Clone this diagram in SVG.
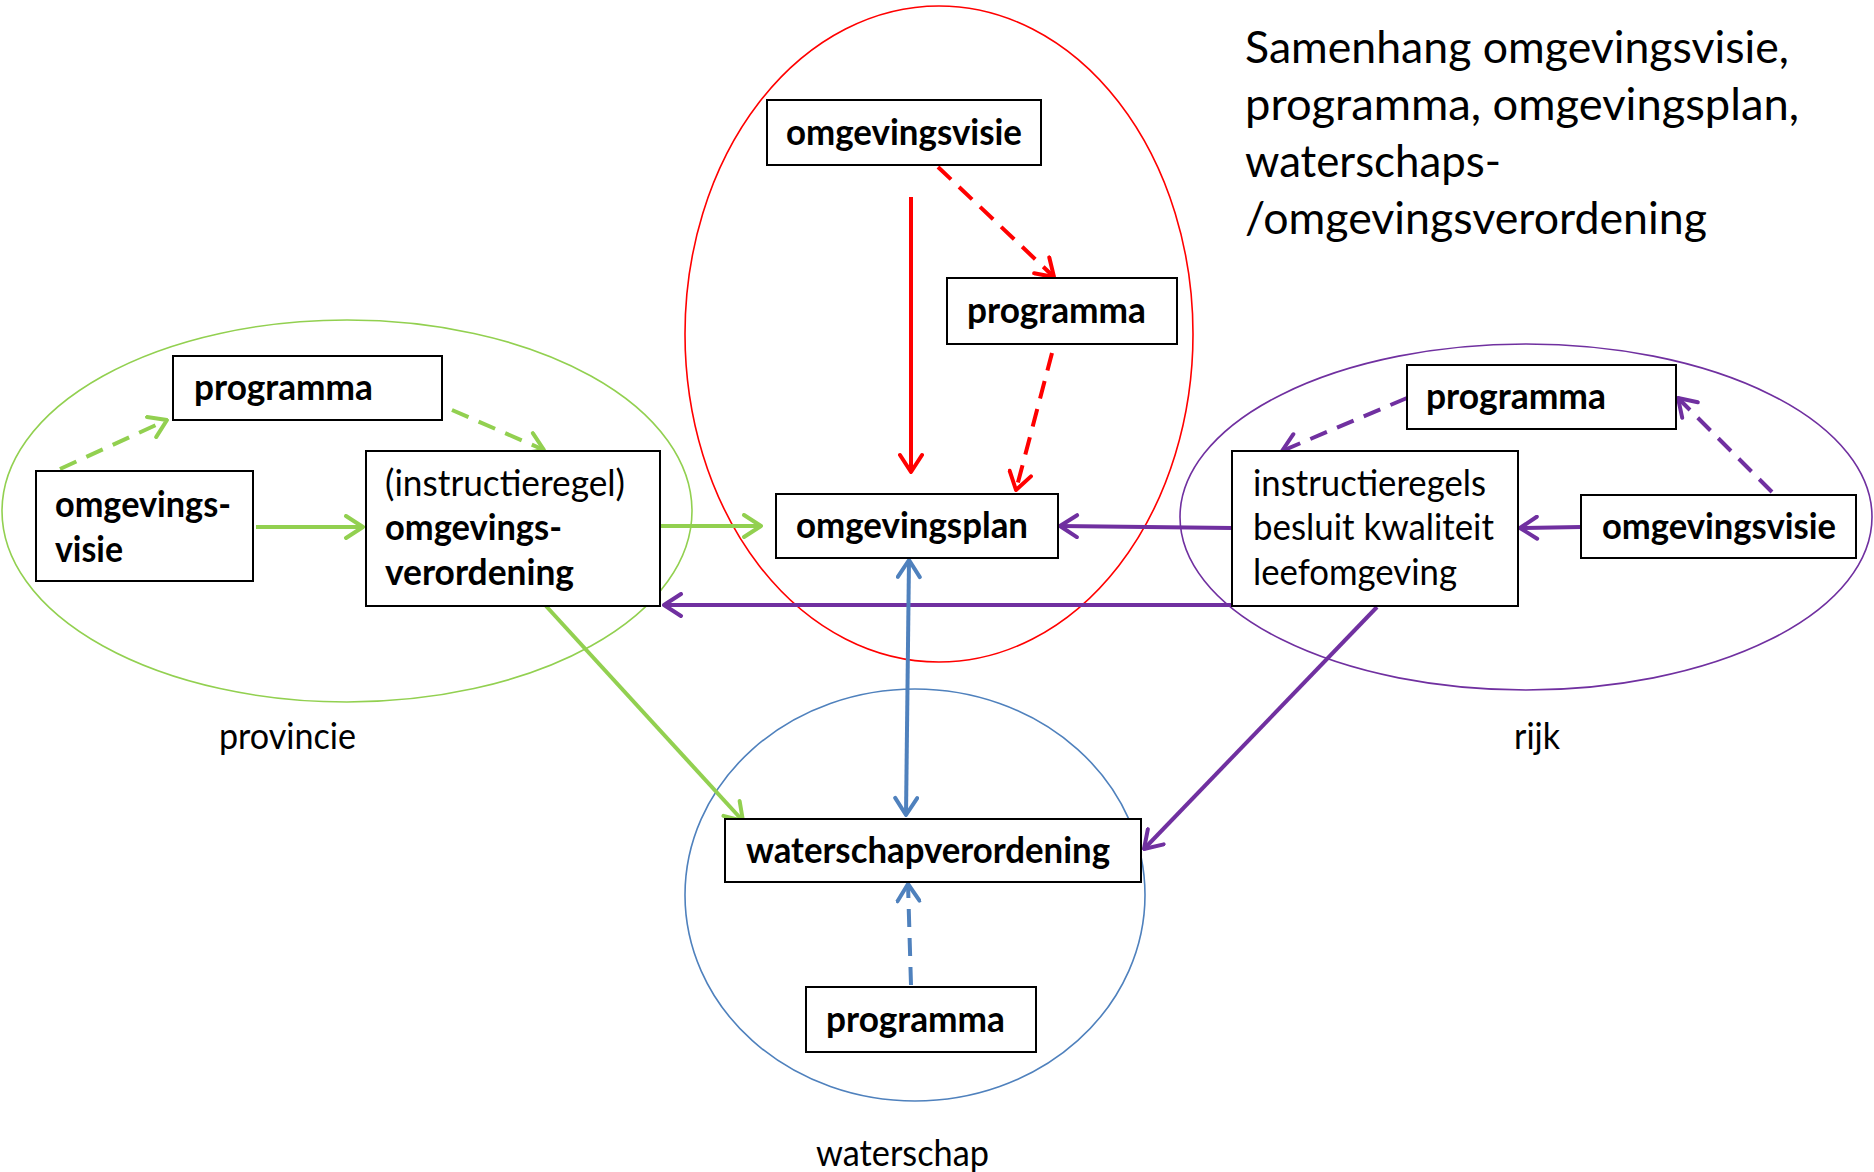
<svg xmlns="http://www.w3.org/2000/svg" width="1874" height="1172" viewBox="0 0 1874 1172">
<style>
  .bg { fill: #ffffff; }
  .area { fill: none; stroke-width: 1.6; }
  .box { fill: #ffffff; stroke: #000000; stroke-width: 2; }
  .t { font-family: Lato, "Liberation Sans", sans-serif; font-size: 36px; fill: #000000; }
  .b { font-weight: bold; }
  .title { font-family: Lato, "Liberation Sans", sans-serif; font-size: 45px; fill: #000000; }
  .c { fill: none; stroke-width: 4; }
  .dash { stroke-dasharray: 18 11; }
  .red { stroke: #FF0000; }
  .green { stroke: #92D050; }
  .purple { stroke: #7030A0; }
  .blue { stroke: #4F81BD; }
</style>
<defs>
  <marker id="ar-red" viewBox="0 0 22 26" refX="20" refY="13" markerWidth="22" markerHeight="26" markerUnits="userSpaceOnUse" orient="auto-start-reverse">
    <path d="M3,2 L20,13 L3,24" fill="none" stroke="#FF0000" stroke-width="4" stroke-linecap="round" stroke-linejoin="round"/>
  </marker>
  <marker id="ar-green" viewBox="0 0 22 26" refX="20" refY="13" markerWidth="22" markerHeight="26" markerUnits="userSpaceOnUse" orient="auto-start-reverse">
    <path d="M3,2 L20,13 L3,24" fill="none" stroke="#92D050" stroke-width="4" stroke-linecap="round" stroke-linejoin="round"/>
  </marker>
  <marker id="ar-purple" viewBox="0 0 22 26" refX="20" refY="13" markerWidth="22" markerHeight="26" markerUnits="userSpaceOnUse" orient="auto-start-reverse">
    <path d="M3,2 L20,13 L3,24" fill="none" stroke="#7030A0" stroke-width="4" stroke-linecap="round" stroke-linejoin="round"/>
  </marker>
  <marker id="ar-blue" viewBox="0 0 22 26" refX="20" refY="13" markerWidth="22" markerHeight="26" markerUnits="userSpaceOnUse" orient="auto-start-reverse">
    <path d="M3,2 L20,13 L3,24" fill="none" stroke="#4F81BD" stroke-width="4" stroke-linecap="round" stroke-linejoin="round"/>
  </marker>
</defs>
<rect class="bg" x="0" y="0" width="1874" height="1172"/>

<g id="areas">
  <ellipse id="area-gemeente" class="area red" cx="939" cy="334" rx="254" ry="328"/>
  <ellipse id="area-provincie" class="area green" cx="347" cy="511" rx="345" ry="191"/>
  <ellipse id="area-rijk" class="area purple" cx="1526" cy="517" rx="346" ry="173"/>
  <ellipse id="area-waterschap" class="area blue" cx="915" cy="895" rx="230" ry="206"/>
</g>

<g id="title">
  <text class="title" x="1245" y="63" textLength="544" lengthAdjust="spacingAndGlyphs">Samenhang omgevingsvisie,</text>
  <text class="title" x="1245" y="120" textLength="554" lengthAdjust="spacingAndGlyphs">programma, omgevingsplan,</text>
  <text class="title" x="1245" y="177" textLength="256" lengthAdjust="spacingAndGlyphs">waterschaps-</text>
  <text class="title" x="1245" y="234" textLength="462" lengthAdjust="spacingAndGlyphs">/omgevingsverordening</text>
</g>

<g id="connectors">
  <line class="c red" x1="911" y1="197" x2="911" y2="472" marker-end="url(#ar-red)"/>
  <line class="c red dash" x1="938" y1="167" x2="1054" y2="277" marker-end="url(#ar-red)"/>
  <line class="c red dash" x1="1052" y1="353" x2="1016" y2="490" marker-end="url(#ar-red)"/>

  <line class="c green dash" x1="60" y1="469" x2="167" y2="420" marker-end="url(#ar-green)"/>
  <line class="c green dash" x1="452" y1="410" x2="544" y2="450" marker-end="url(#ar-green)"/>
  <line class="c green" x1="256" y1="527" x2="363" y2="527" marker-end="url(#ar-green)"/>
  <line class="c green" x1="660" y1="526" x2="761" y2="526" marker-end="url(#ar-green)"/>
  <line class="c green" x1="546" y1="606" x2="743" y2="821" marker-end="url(#ar-green)"/>

  <line class="c purple" x1="1581" y1="527" x2="1520" y2="528" marker-end="url(#ar-purple)"/>
  <line class="c purple" x1="1232" y1="528" x2="1060" y2="526" marker-end="url(#ar-purple)"/>
  <line class="c purple" x1="1232" y1="605" x2="664" y2="605" marker-end="url(#ar-purple)"/>
  <line class="c purple dash" x1="1407" y1="398" x2="1282" y2="451" marker-end="url(#ar-purple)"/>
  <line class="c purple dash" x1="1772" y1="492" x2="1678" y2="398" marker-end="url(#ar-purple)"/>
  <line class="c purple" x1="1377" y1="607" x2="1144" y2="849" marker-end="url(#ar-purple)"/>

  <line class="c blue" x1="909" y1="560" x2="906" y2="815" marker-start="url(#ar-blue)" marker-end="url(#ar-blue)"/>
  <line class="c blue dash" x1="911" y1="985" x2="908" y2="884" marker-end="url(#ar-blue)"/>
</g>

<g id="gem-omgevingsvisie">
  <rect class="box" x="767" y="100" width="274" height="65"/>
  <text class="t b" x="786" y="145" textLength="236" lengthAdjust="spacingAndGlyphs">omgevingsvisie</text>
</g>
<g id="gem-programma">
  <rect class="box" x="947" y="278" width="230" height="66"/>
  <text class="t b" x="967" y="323" textLength="179" lengthAdjust="spacingAndGlyphs">programma</text>
</g>
<g id="gem-omgevingsplan">
  <rect class="box" x="776" y="494" width="282" height="64"/>
  <text class="t b" x="796" y="538" textLength="232" lengthAdjust="spacingAndGlyphs">omgevingsplan</text>
</g>

<g id="prov-programma">
  <rect class="box" x="173" y="356" width="269" height="64"/>
  <text class="t b" x="194" y="400" textLength="179" lengthAdjust="spacingAndGlyphs">programma</text>
</g>
<g id="prov-omgevingsvisie">
  <rect class="box" x="36" y="471" width="217" height="110"/>
  <text class="t b" x="55" y="517" textLength="176" lengthAdjust="spacingAndGlyphs">omgevings-</text>
  <text class="t b" x="55" y="562" textLength="68" lengthAdjust="spacingAndGlyphs">visie</text>
</g>
<g id="prov-omgevingsverordening">
  <rect class="box" x="366" y="451" width="294" height="155"/>
  <text class="t" x="385" y="496" textLength="240" lengthAdjust="spacingAndGlyphs">(instructieregel)</text>
  <text class="t b" x="385" y="540" textLength="177" lengthAdjust="spacingAndGlyphs">omgevings-</text>
  <text class="t b" x="385" y="585" textLength="189" lengthAdjust="spacingAndGlyphs">verordening</text>
</g>

<g id="rijk-programma">
  <rect class="box" x="1407" y="365" width="269" height="64"/>
  <text class="t b" x="1426" y="409" textLength="180" lengthAdjust="spacingAndGlyphs">programma</text>
</g>
<g id="rijk-instructieregels">
  <rect class="box" x="1232" y="451" width="286" height="155"/>
  <text class="t" x="1253" y="496" textLength="233" lengthAdjust="spacingAndGlyphs">instructieregels</text>
  <text class="t" x="1253" y="540" textLength="241" lengthAdjust="spacingAndGlyphs">besluit kwaliteit</text>
  <text class="t" x="1253" y="585" textLength="204" lengthAdjust="spacingAndGlyphs">leefomgeving</text>
</g>
<g id="rijk-omgevingsvisie">
  <rect class="box" x="1581" y="495" width="275" height="63"/>
  <text class="t b" x="1602" y="539" textLength="234" lengthAdjust="spacingAndGlyphs">omgevingsvisie</text>
</g>

<g id="ws-waterschapverordening">
  <rect class="box" x="725" y="819" width="416" height="63"/>
  <text class="t b" x="746" y="863" textLength="364" lengthAdjust="spacingAndGlyphs">waterschapverordening</text>
</g>
<g id="ws-programma">
  <rect class="box" x="806" y="987" width="230" height="65"/>
  <text class="t b" x="826" y="1032" textLength="179" lengthAdjust="spacingAndGlyphs">programma</text>
</g>

<g id="labels">
  <text class="t" x="219" y="749" textLength="137" lengthAdjust="spacingAndGlyphs">provincie</text>
  <text class="t" x="1514" y="749" textLength="46" lengthAdjust="spacingAndGlyphs">rijk</text>
  <text class="t" x="816" y="1166" textLength="173" lengthAdjust="spacingAndGlyphs">waterschap</text>
</g>
</svg>
